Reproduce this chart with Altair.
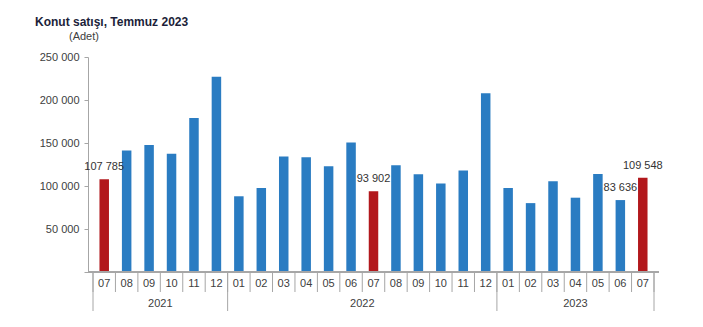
import altair as alt
import pandas as pd

# ---- data ----
months = ["07", "08", "09", "10", "11", "12",
          "01", "02", "03", "04", "05", "06", "07", "08", "09", "10", "11", "12",
          "01", "02", "03", "04", "05", "06", "07"]
years = ["2021"] * 6 + ["2022"] * 12 + ["2023"] * 7
values = [107785, 141300, 147600, 137500, 179200, 227000,
          88050, 97700, 134200, 133500, 123000, 150500, 93902, 124200, 113800, 102900, 118000, 207800,
          97700, 80100, 105400, 86400, 114000, 83636, 109548]
labelled = ["2021-07", "2022-07", "2023-06", "2023-07"]
title_text = "Konut satışı, Temmuz 2023"
subtitle_text = "(Adet)"
y_ticks = [0, 50000, 100000, 150000, 200000, 250000]

BLUE = "#2a7cc2"
RED = "#b2181c"
GREY = "#a6a6a6"
TEXT = "#404040"
FONT = "Liberation Sans"

W, H = 571, 215
n = len(months)

df = pd.DataFrame({"month": months, "year": years, "value": values})
df["idx"] = range(n)
df["pos"] = df["idx"] + 0.5
df["key"] = df["year"] + "-" + df["month"]

bounds = pd.DataFrame({"b": list(range(n + 1))})
grp = df.groupby("year", sort=False)
year_df = pd.DataFrame({
    "year": list(grp.groups.keys()),
    "center": grp["pos"].mean().values,
})
year_bounds = pd.DataFrame({"b": sorted(set(grp["idx"].min().tolist() + [n] + [0]))})

xscale = alt.Scale(domain=[0, n], nice=False, zero=False)
yscale = alt.Scale(domain=[0, 250000], nice=False)

bars = alt.Chart(df).mark_bar(size=9.5).encode(
    x=alt.X("pos:Q", scale=xscale, axis=None),
    y=alt.Y("value:Q", scale=yscale, axis=alt.Axis(
        values=y_ticks, title=None, grid=False,
        domainColor=GREY, tickColor=GREY, tickSize=4, labelPadding=5,
        labelFont=FONT, labelFontSize=11, labelColor=TEXT,
        labelExpr="datum.value == 0 ? '' : replace(format(datum.value, ','), ',', ' ')")),
    color=alt.condition(alt.datum.month == "07", alt.value(RED), alt.value(BLUE)),
)

labels = alt.Chart(df).transform_filter(
    alt.FieldOneOfPredicate(field="key", oneOf=labelled)
).transform_calculate(
    lbl="replace(format(datum.value, ','), ',', ' ')"
).mark_text(font=FONT, fontSize=11, color="#333333", baseline="middle", dy=-12).encode(
    x=alt.X("pos:Q", scale=xscale, axis=None),
    y=alt.Y("value:Q", scale=yscale),
    text="lbl:N",
)

baseline = alt.Chart(bounds).mark_rule(color=GREY).encode(
    x=alt.value(0), x2=alt.value(W), y=alt.value(H)
)

month_rules = alt.Chart(bounds).mark_rule(color=GREY).encode(
    x=alt.X("b:Q", scale=xscale, axis=None), y=alt.value(H), y2=alt.value(H + 20)
)

year_rules = alt.Chart(year_bounds).mark_rule(color=GREY).encode(
    x=alt.X("b:Q", scale=xscale, axis=None), y=alt.value(H), y2=alt.value(H + 39)
)

month_text = alt.Chart(df).mark_text(font=FONT, fontSize=11, color=TEXT, baseline="middle").encode(
    x=alt.X("pos:Q", scale=xscale, axis=None), y=alt.value(H + 12), text="month:N"
)

year_text = alt.Chart(year_df).mark_text(font=FONT, fontSize=11, color=TEXT, baseline="middle").encode(
    x=alt.X("center:Q", scale=xscale, axis=None), y=alt.value(H + 31.5), text="year:N"
)

title = alt.Chart(pd.DataFrame({"t": [title_text]})).mark_text(
    font=FONT, fontSize=12, fontWeight="bold", color="#1c1f3a", align="left", baseline="alphabetic"
).encode(x=alt.value(-53), y=alt.value(-31), text="t:N")

subtitle = alt.Chart(pd.DataFrame({"t": [subtitle_text]})).mark_text(
    font=FONT, fontSize=11, color=TEXT, align="left", baseline="alphabetic"
).encode(x=alt.value(-19), y=alt.value(-17), text="t:N")

chart = alt.layer(
    bars, labels, baseline, month_rules, year_rules, month_text, year_text, title, subtitle
).properties(
    width=W, height=H,
    autosize=alt.AutoSizeParams(type="none"),
    padding={"left": 88, "top": 57, "right": 44, "bottom": 55},
    background="white",
).configure_view(stroke=None)

chart.save("out.html", embed_options={"renderer": "svg", "actions": False})
